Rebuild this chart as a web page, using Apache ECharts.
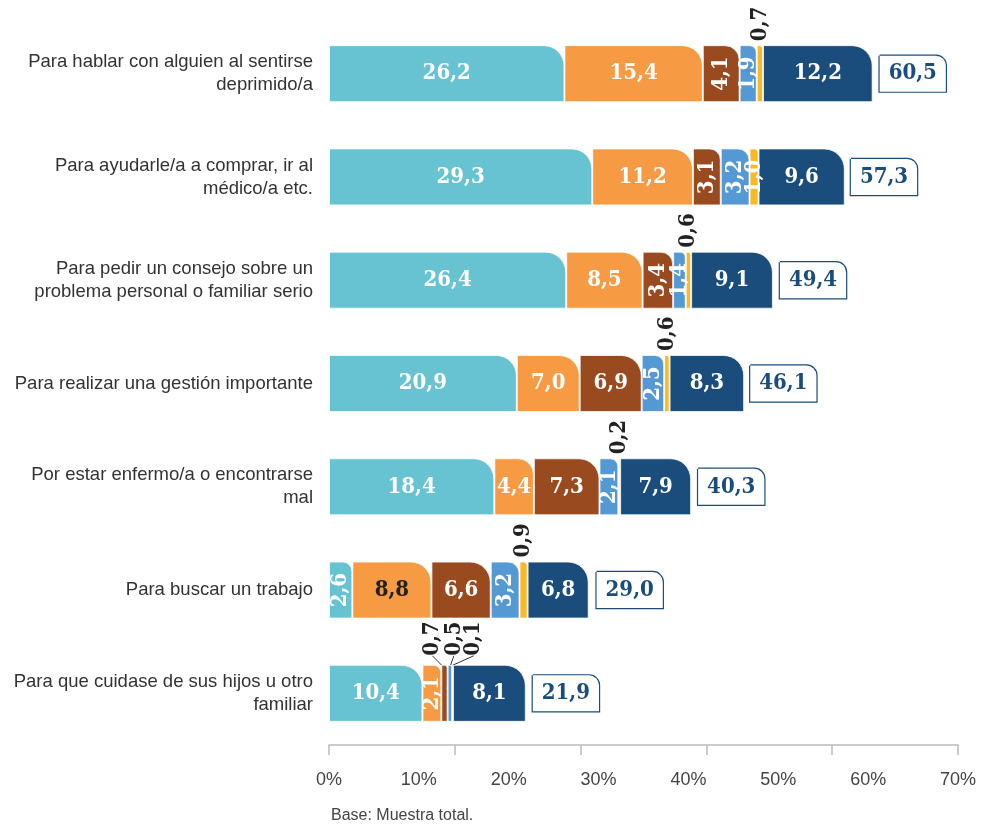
<!DOCTYPE html>
<html><head><meta charset="utf-8">
<script src="https://cdn.jsdelivr.net/npm/echarts@6/dist/echarts.min.js"></script>
<style>html,body{margin:0;padding:0;background:#fff}#c{width:987px;height:826px}</style>
</head><body><div id="c"></div>
<script>
const categories = [
  "Para hablar con alguien al sentirse\ndeprimido/a",
  "Para ayudarle/a a comprar, ir al\nmédico/a etc.",
  "Para pedir un consejo sobre un\nproblema personal o familiar serio",
  "Para realizar una gestión importante",
  "Por estar enfermo/a o encontrarse\nmal",
  "Para buscar un trabajo",
  "Para que cuidase de sus hijos u otro\nfamiliar"
];
const s1 = [26.2, 29.3, 26.4, 20.9, 18.4, 2.6, 10.4];
const s2 = [15.4, 11.2, 8.5, 7.0, 4.4, 8.8, 2.1];
const s3 = [4.1, 3.1, 3.4, 6.9, 7.3, 6.6, 0.7];
const s4 = [1.9, 3.2, 1.4, 2.5, 2.1, 3.2, 0.5];
const s5 = [0.7, 1.0, 0.6, 0.6, 0.2, 0.9, 0.1];
const s6 = [12.2, 9.6, 9.1, 8.3, 7.9, 6.8, 8.1];
const totals = [60.5, 57.3, 49.4, 46.1, 40.3, 29.0, 21.9];
const xTickLabels = [0, 10, 20, 30, 40, 50, 60, 70];

const colors = ['#67C3D1', '#F79A44', '#9A4A1F', '#5499D3', '#FDB924', '#1A4D7C'];
const seriesData = [s1, s2, s3, s4, s5, s6];
const fmt = v => v.toFixed(1).replace('.', ',');
const PX_PER_UNIT = 8.98;
const labelFont = '"DejaVu Serif Condensed", "DejaVu Serif", serif';
// horizontal shifts for the crowded labels of the last row (series 3,4,5)
const crowdShift = { 2: -12, 3: 4, 4: 21 };

function itemFor(v, si, di) {
  const w = v * PX_PER_UNIT;
  const r = Math.max(0, Math.min(20, w / 2.6));
  const item = { value: v, itemStyle: { borderRadius: [0, r, 0, 0] } };
  const dark = (si === 1 && di === 5);
  if (v >= 4.3) {
    item.label = { position: 'inside', rotate: 0, color: dark ? '#222' : '#fff' };
  } else if (v >= 1.0) {
    item.label = { position: 'inside', rotate: 90, color: '#fff', align: 'center', verticalAlign: 'middle' };
  } else {
    item.label = { position: 'top', rotate: 90, color: '#222', align: 'left', verticalAlign: 'middle', distance: 4 };
    if (di === 6) {
      item.label.distance = 9;
      // offset is applied in the label's rotated frame: [0, d] shifts horizontally
      item.label.offset = [0, crowdShift[si] || 0];
      item.labelLine = { show: true, lineStyle: { color: '#333', width: 1 } };
    }
  }
  return item;
}

const series = seriesData.map((arr, si) => ({
  type: 'bar',
  stack: 'a',
  barWidth: 57,
  data: arr.map((v, di) => itemFor(v, si, di)),
  itemStyle: { color: colors[si], borderColor: 'rgba(255,255,255,0.75)', borderWidth: 1 },
  label: {
    show: true,
    formatter: p => fmt(p.value),
    fontFamily: labelFont,
    fontWeight: 'bold',
    fontSize: 22
  },
  labelLine: { show: false },
  z: 3
}));

series.push({
  type: 'bar',
  barWidth: 57,
  barGap: '-100%',
  silent: true,
  data: totals,
  itemStyle: { color: 'rgba(0,0,0,0)' },
  z: 1,
  label: {
    show: true,
    position: 'right',
    distance: 7,
    formatter: p => fmt(p.value),
    fontFamily: labelFont,
    fontWeight: 'bold',
    fontSize: 22,
    color: '#1A4D7C',
    backgroundColor: '#fff',
    borderColor: '#1A4D7C',
    borderWidth: 1.2,
    borderRadius: [0, 10, 0, 0],
    padding: [8, 9, 6, 9]
  }
});

const chart = echarts.init(document.getElementById('c'), null, { renderer: 'canvas' });
chart.setOption({
  animation: false,
  grid: { left: 329, right: 29, top: 22, bottom: 81, containLabel: false },
  xAxis: [{
    type: 'value', min: 0, max: 70, interval: 10,
    axisLine: { show: true, lineStyle: { color: '#bbbbbb', width: 1.5 } },
    axisTick: { show: false },
    splitLine: { show: false },
    axisLabel: {
      formatter: v => xTickLabels.indexOf(v) >= 0 ? v + '%' : '',
      color: '#444', fontSize: 18, margin: 26,
      fontFamily: '"Liberation Sans", Arial, sans-serif'
    }
  }, {
    type: 'value', min: 0, max: 70, interval: 14, position: 'bottom',
    axisLine: { show: false },
    axisTick: { show: true, length: 10, lineStyle: { color: '#bbbbbb', width: 1.5 } },
    axisLabel: { show: false },
    splitLine: { show: false }
  }],
  yAxis: {
    type: 'category', data: categories, inverse: true,
    axisLine: { show: false }, axisTick: { show: false },
    axisLabel: {
      color: '#333', fontSize: 18.5, lineHeight: 23, margin: 16, align: 'right',
      fontFamily: '"Liberation Sans", Arial, sans-serif'
    }
  },
  series: series,
  graphic: [{
    type: 'text', left: 331, top: 808,
    style: { text: 'Base: Muestra total.', fill: '#444', fontSize: 16, fontFamily: '"Liberation Sans", Arial, sans-serif' }
  }]
});
</script></body></html>
